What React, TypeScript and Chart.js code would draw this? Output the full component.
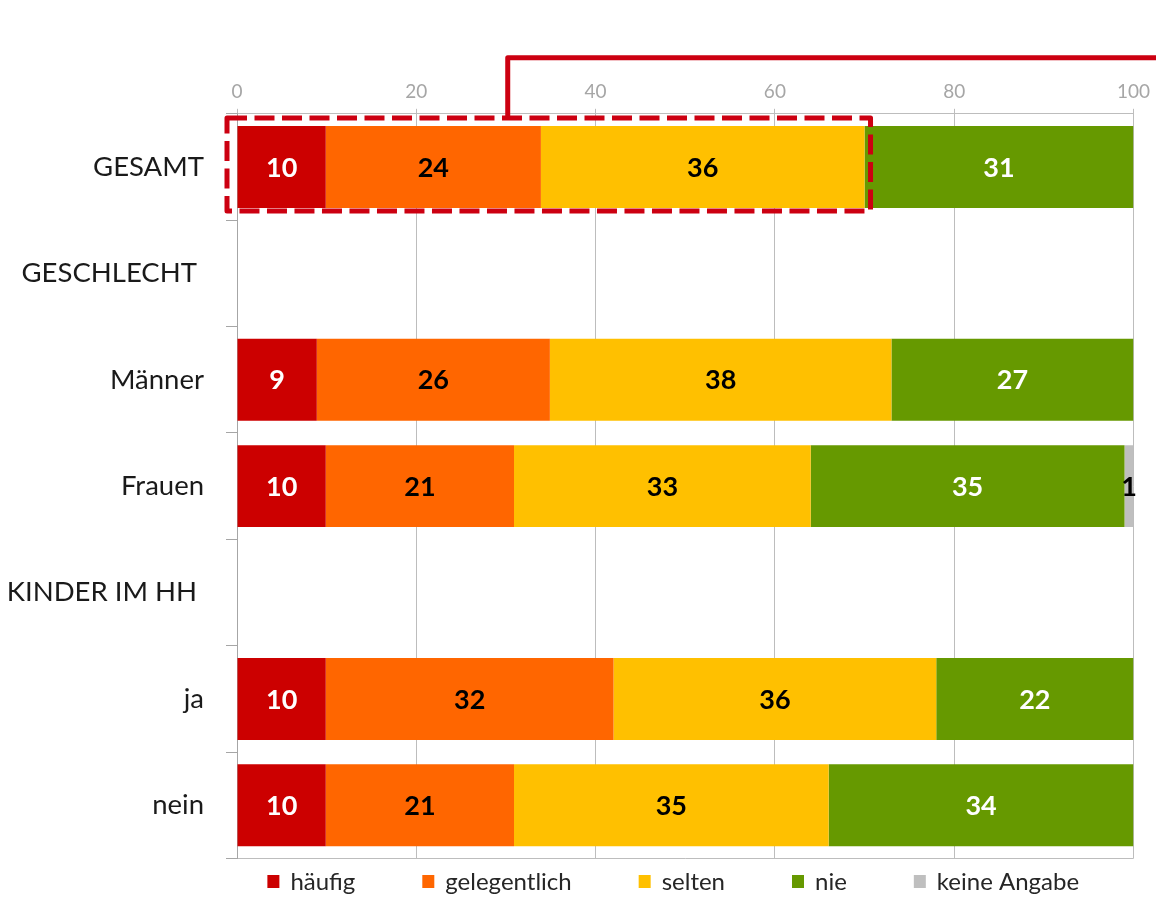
import React, { useEffect, useRef } from "react";
import { Chart, registerables } from "chart.js";

Chart.register(...registerables);

// ---------- data ----------
const categories = ["GESAMT", "GESCHLECHT ", "Männer", "Frauen", "KINDER IM HH ", "ja", "nein"];
const seriesNames = ["häufig", "gelegentlich", "selten", "nie", "keine Angabe"];

// segment widths in percent
const haeufig = [9.9, null, 8.9, 9.9, null, 9.9, 9.9];
const gelegentlich = [24.0, null, 26.0, 21.0, null, 32.1, 21.0];
const selten = [36.1, null, 38.1, 33.1, null, 36.0, 35.1];
const nie = [30.0, null, 27.0, 35.0, null, 22.0, 34.0];
const keineAngabe = [0, null, 0, 1.0, null, 0, 0];

// printed (rounded) values
const haeufigLabels = ["10", "", "9", "10", "", "10", "10"];
const gelegentlichLabels = ["24", "", "26", "21", "", "32", "21"];
const seltenLabels = ["36", "", "38", "33", "", "36", "35"];
const nieLabels = ["31", "", "27", "35", "", "22", "34"];
const keineAngabeLabels = ["", "", "", "1", "", "", ""];

const xTicks = [0, 20, 40, 60, 80, 100];

const seriesColors = ["#cc0000", "#ff6600", "#ffc000", "#669900", "#bfbfbf"];
const labelColors = ["#ffffff", "#000000", "#000000", "#ffffff", "#000000"];

const seriesData = [haeufig, gelegentlich, selten, nie, keineAngabe];
const seriesLabels = [haeufigLabels, gelegentlichLabels, seltenLabels, nieLabels, keineAngabeLabels];

// callout annotation: boxes the first three segments of GESAMT
const CALLOUT_ROW = 0;
const CALLOUT_LAST_SERIES = 2;
const CALLOUT_LINE_VALUE = 30.2;

const FONT = "Lato, 'Open Sans', sans-serif";
const RED = "#cc0011";

const segmentLabelPlugin = {
  id: "segmentLabels",
  afterDatasetsDraw(chart: any) {
    const ctx = chart.ctx;
    ctx.save();
    ctx.font = `bold 27px ${FONT}`;
    ctx.textAlign = "center";
    ctx.textBaseline = "middle";
    chart.data.datasets.forEach((_ds: any, di: number) => {
      const meta = chart.getDatasetMeta(di);
      meta.data.forEach((bar: any, i: number) => {
        const text = seriesLabels[di][i];
        if (!text) return;
        const p = bar.getProps(["x", "y", "base"], true);
        ctx.fillStyle = labelColors[di];
        ctx.fillText(text, (p.x + p.base) / 2, p.y + 1);
      });
    });
    ctx.restore();
  },
};

const calloutPlugin = {
  id: "callout",
  afterDraw(chart: any) {
    const ctx = chart.ctx;
    const xs = chart.scales.x;
    const bar = chart.getDatasetMeta(CALLOUT_LAST_SERIES).data[CALLOUT_ROW];
    const p = bar.getProps(["x", "y", "height"], true);
    const left = xs.getPixelForValue(0) - 10;
    const right = p.x + 6;
    const top = p.y - p.height / 2 - 8;
    const bottom = p.y + p.height / 2 + 3;
    ctx.save();
    ctx.strokeStyle = RED;
    ctx.lineWidth = 5;
    ctx.lineJoin = "round";
    ctx.setLineDash([20, 7.5]);
    ctx.strokeRect(left, top, right - left, bottom - top);
    ctx.setLineDash([]);
    const lx = xs.getPixelForValue(CALLOUT_LINE_VALUE);
    const ly = chart.chartArea.top - 56;
    ctx.beginPath();
    ctx.moveTo(lx, top);
    ctx.lineTo(lx, ly);
    ctx.lineTo(chart.width + 10, ly);
    ctx.stroke();
    ctx.restore();
  },
};

const legendPlugin = {
  id: "bottomLegend",
  afterDraw(chart: any) {
    const ctx = chart.ctx;
    const ca = chart.chartArea;
    ctx.save();
    ctx.font = `24px ${FONT}`;
    ctx.textBaseline = "middle";
    ctx.textAlign = "left";
    const boxW = 12;
    const boxH = 13;
    const gap = 11;
    const spacing = 67;
    const widths = seriesNames.map((n) => boxW + gap + ctx.measureText(n).width);
    const total = widths.reduce((a, b) => a + b, 0) + spacing * (seriesNames.length - 1);
    const center = (ca.left + ca.right) / 2 - 12;
    let x = center - total / 2;
    const y = ca.bottom + 23;
    seriesNames.forEach((n, i) => {
      ctx.fillStyle = seriesColors[i];
      ctx.fillRect(x, y - boxH / 2, boxW, boxH);
      ctx.fillStyle = "#262626";
      ctx.fillText(n, x + boxW + gap, y + 1);
      x += widths[i] + spacing;
    });
    ctx.restore();
  },
};

export default function App() {
  const ref = useRef<HTMLCanvasElement | null>(null);
  useEffect(() => {
    if (!ref.current) return;
    const chart = new Chart(ref.current, {
      type: "bar",
      data: {
        labels: categories,
        datasets: seriesNames.map((name, i) => ({
          label: name,
          data: seriesData[i] as any,
          backgroundColor: seriesColors[i],
          borderWidth: 0,
          barPercentage: 0.77,
          categoryPercentage: 1,
          stack: "s",
        })),
      },
      options: {
        indexAxis: "y",
        responsive: false,
        animation: false,
        layout: { padding: { left: 0, right: 22, top: 74, bottom: 36 } },
        plugins: { legend: { display: false }, tooltip: { enabled: false } },
        scales: {
          x: {
            type: "linear",
            position: "top",
            stacked: true,
            min: 0,
            max: 100,
            afterBuildTicks: (s: any) => {
              s.ticks = xTicks.map((v) => ({ value: v }));
            },
            ticks: { color: "#a6a6a6", font: { family: FONT, size: 19 }, padding: 6 },
            grid: { color: "#bdbdbd", tickColor: "#bdbdbd", tickLength: 5, lineWidth: 1 },
            border: { color: "#bdbdbd" },
          },
          y: {
            type: "category",
            stacked: true,
            offset: true,
            afterFit: (s: any) => {
              s.width = 237;
            },
            ticks: { color: "#1a1a1a", font: { family: FONT, size: 27.5 }, padding: 22 },
            grid: {
              offset: true,
              drawOnChartArea: true,
              color: (c: any) => (c.type === "tick" ? "rgba(0,0,0,0)" : "#bdbdbd"),
              tickColor: "#a6a6a6",
              tickLength: 11,
            },
            border: { color: "#a6a6a6" },
          },
        },
      },
      plugins: [segmentLabelPlugin, legendPlugin, calloutPlugin],
    });
    return () => chart.destroy();
  }, []);
  return (
    <div style={{ position: "absolute", left: 0, top: 0, width: 1156, height: 897, background: "#fff" }}>
      <canvas ref={ref} width={1156} height={897} style={{ display: "block" }} />
    </div>
  );
}
